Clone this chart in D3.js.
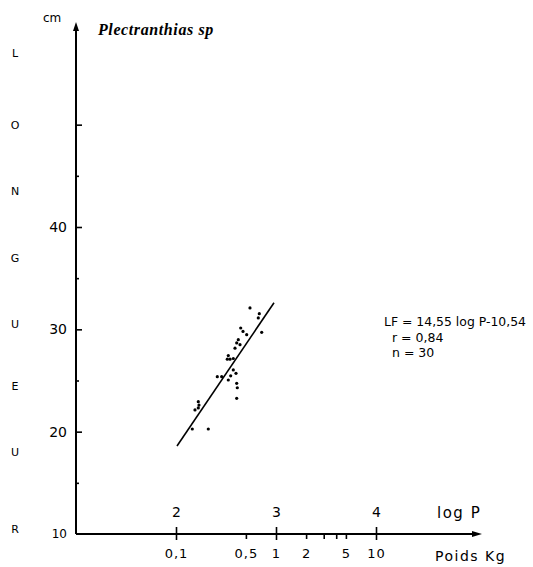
<!DOCTYPE html>
<html><head><meta charset="utf-8">
<script src="https://cdn.jsdelivr.net/npm/d3@7"></script>
<style>body{margin:0;background:#fff}svg{display:block}text{fill:#000}</style>
</head><body>
<svg id="c" width="533" height="567"></svg>
<script>
// ---- data ----
const logP = [2.74,2.833,2.823,2.857,2.647,2.707,2.623,2.607,2.64,2.59,2.523,2.513,2.573,2.573,2.60,2.547,2.413,2.457,2.523,2.607,2.613,2.607,2.223,2.223,2.19,2.163,2.323,2.54,2.67,2.23];
const lengthCm = [32.09,31.53,31.11,29.71,30.13,29.48,28.99,28.67,28.5,28.16,27.44,27.08,27.15,26.03,25.7,25.46,25.37,25.37,25.05,24.72,24.29,23.26,22.93,22.32,22.12,20.26,20.26,27.08,29.8,22.6];
const fitLogP = [2.01, 2.98];
const fitL = [18.6, 32.6];
const yMajor = [20,30,40,50];
const yMinor = [15,25,35,45];
const yLabels = [10,20,30,40];
const xMajor = [2,3,4];
const kgTicks = [0.5,2,3,4,5];
const kgLabelVals = [0.1,0.5,1,2,5,10];
const kgLabelText = ["0,1","0,5","1","2","5","10"];
const sideLetters = ["L","O","N","G","U","E","U","R"];
const sideLetterY = [57,50,43.5,37,30.5,24.5,18,10.5];
const legendLines = ["LF = 14,55 log P-10,54","r =  0,84","n = 30"];

// ---- chart ----
const svg = d3.select("#c");
const x = d3.scaleLinear().domain([1,5]).range([76,476]);
const y = d3.scaleLinear().domain([10,40]).range([534,227]);
const font = "'DejaVu Sans', sans-serif";

// axes lines
svg.append("line").attr("x1",x(1)).attr("x2",x(1)).attr("y1",y(10)).attr("y2",28)
  .attr("stroke","#000").attr("stroke-width",2);
svg.append("path").attr("d",`M${x(1)-3},31 L${x(1)},22 L${x(1)+3},31 Z`).attr("fill","#000");
svg.append("line").attr("x1",x(1)).attr("x2",476).attr("y1",y(10)).attr("y2",y(10))
  .attr("stroke","#000").attr("stroke-width",2);
svg.append("path").attr("d",`M472,${y(10)-3} L482,${y(10)} L472,${y(10)+3} Z`).attr("fill","#000");

function styleAxis(g){ g.select(".domain").remove(); g.selectAll("line").attr("stroke","#000").attr("stroke-width",1.6); g.selectAll("text").attr("font-family",font).attr("fill","#000"); }

// y ticks (to the right)
svg.append("g").attr("transform",`translate(${x(1)},0)`)
  .call(d3.axisRight(y).tickValues(yMajor).tickSize(6).tickFormat("")).call(styleAxis);
svg.append("g").attr("transform",`translate(${x(1)},0)`)
  .call(d3.axisRight(y).tickValues(yMinor).tickSize(3).tickFormat("")).call(styleAxis);
// y labels
const yl = svg.append("g").attr("transform",`translate(${x(1)},0)`)
  .call(d3.axisLeft(y).tickValues(yLabels).tickSize(0).tickPadding(9).tickFormat(d=>d)).call(styleAxis);
yl.selectAll("text").attr("font-size",d=>d===10?12:14);

// x major ticks crossing
svg.append("g").attr("transform",`translate(0,${y(10)})`)
  .call(d3.axisTop(x).tickValues(xMajor).tickSize(7).tickPadding(10).tickFormat(d=>d)).call(styleAxis)
  .selectAll("text").attr("font-size",14);
svg.append("g").attr("transform",`translate(0,${y(10)})`)
  .call(d3.axisBottom(x).tickValues(xMajor).tickSize(6).tickFormat("")).call(styleAxis);
// kg ticks
svg.append("g").attr("transform",`translate(0,${y(10)})`)
  .call(d3.axisBottom(x).tickValues(kgTicks.map(k=>Math.log10(k*1000))).tickSize(5).tickFormat("")).call(styleAxis);
const kgG = svg.append("g").attr("transform",`translate(0,${y(10)})`)
  .call(d3.axisBottom(x).tickValues(kgLabelVals.map(k=>Math.log10(k*1000))).tickSize(0).tickPadding(15)
  .tickFormat((d,i)=>kgLabelText[i])).call(styleAxis);
kgG.selectAll("text").attr("font-size",13).attr("letter-spacing",1);

// axis titles
svg.append("text").attr("x",437).attr("y",518).attr("font-family",font).attr("font-size",15).attr("letter-spacing",1.5).text("log P");
svg.append("text").attr("x",435).attr("y",561).attr("font-family",font).attr("font-size",14).attr("letter-spacing",1.5).text("Poids Kg");
svg.append("text").attr("x",43).attr("y",22).attr("font-family",font).attr("font-size",12).text("cm");
svg.selectAll(".side").data(sideLetters).join("text").attr("class","side")
  .attr("x",15).attr("y",(d,i)=>y(sideLetterY[i])+4).attr("text-anchor","middle")
  .attr("font-family",font).attr("font-size",11).attr("fill","#222").text(d=>d);

// title
svg.append("text").attr("x",98).attr("y",35).attr("font-family","'Liberation Serif', serif")
  .attr("font-style","italic").attr("font-weight","bold").attr("font-size",16).attr("letter-spacing",0.6)
  .text("Plectranthias sp");

// regression line
svg.append("line").attr("x1",x(fitLogP[0])).attr("y1",y(fitL[0])).attr("x2",x(fitLogP[1])).attr("y2",y(fitL[1]))
  .attr("stroke","#000").attr("stroke-width",1.6);

// points
svg.selectAll(".pt").data(logP).join("circle").attr("class","pt")
  .attr("cx",d=>x(d)).attr("cy",(d,i)=>y(lengthCm[i])).attr("r",1.6).attr("fill","#000");

// legend
const leg = svg.selectAll(".leg").data(legendLines).join("text").attr("class","leg")
  .attr("x",(d,i)=>i===0?384:392).attr("y",(d,i)=>326+i*15.5)
  .attr("font-family",font).attr("font-size",12.5).text(d=>d);
leg.filter((d,i)=>i===0).attr("textLength",142).attr("lengthAdjust","spacingAndGlyphs");
</script>
</body></html>
